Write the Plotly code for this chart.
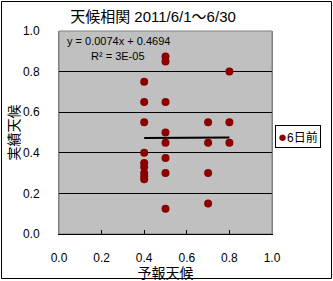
import plotly.graph_objects as go

# Data
forecast = [0.4, 0.4, 0.4, 0.4, 0.4, 0.4, 0.4, 0.4, 0.4,
            0.5, 0.5, 0.5, 0.5, 0.5, 0.5, 0.5, 0.5,
            0.7, 0.7, 0.7, 0.7,
            0.8, 0.8, 0.8]
actual = [0.75, 0.65, 0.55, 0.4, 0.35, 0.33, 0.3, 0.285, 0.27,
          0.875, 0.85, 0.65, 0.5, 0.45, 0.375, 0.3, 0.125,
          0.55, 0.45, 0.3, 0.15,
          0.8, 0.55, 0.45]
slope = 0.0074
intercept = 0.4694
eq_text = "y = 0.0074x + 0.4694"
r2_text = "R² = 3E-05"
series_name = "6日前"
title_text = "天候相関 2011/6/1～6/30"
x_title = "予報天候"
y_title = "実績天候"
tick_vals = [0.0, 0.2, 0.4, 0.6, 0.8, 1.0]

FONT = "Liberation Sans, Noto Sans CJK JP, sans-serif"
MARKER = "#8B0000"

x_min, x_max = min(forecast), max(forecast)
trend_x = [x_min, x_max]
trend_y = [slope * v + intercept for v in trend_x]

fig = go.Figure()
fig.add_trace(go.Scatter(x=trend_x, y=trend_y, mode="lines",
                         line=dict(color="black", width=2), showlegend=False,
                         hoverinfo="skip"))
fig.add_trace(go.Scatter(x=forecast, y=actual, mode="markers", name=series_name,
                         marker=dict(color=MARKER, size=8), showlegend=False))

L, R, T, B = 59, 61, 31, 47
W, H = 333, 281
pw, ph = W - L - R, H - T - B

def px_x(p):
    return (p - L) / pw

def px_y(p):
    return (H - B - p) / ph

fig.update_layout(
    width=W, height=H,
    margin=dict(l=L, r=R, t=T, b=B, autoexpand=False),
    paper_bgcolor="white",
    plot_bgcolor="#C0C0C0",
    font=dict(family=FONT, size=12, color="black"),
    title=dict(text=title_text, x=px_x(153), xanchor="center", xref="paper",
               y=1 - 17 / H, yanchor="middle", yref="container",
               font=dict(size=15, family=FONT)),
    xaxis=dict(range=[0, 1], tickvals=tick_vals, tickformat=".1f",
               showgrid=False, zeroline=False, automargin=False,
               showline=True, linecolor="black", linewidth=1,
               ticks="inside", ticklen=4, tickcolor="black",
               ticklabelstandoff=13,
               title=dict(text=x_title, font=dict(size=14), standoff=0),
               fixedrange=True),
    yaxis=dict(range=[0, 1], tickvals=tick_vals, tickformat=".1f",
               showgrid=True, gridcolor="black", gridwidth=1, zeroline=False,
               automargin=False,
               showline=True, linecolor="#808080", linewidth=1, mirror=True,
               ticks="", ticklabelstandoff=16,
               title=dict(text=y_title, font=dict(size=14), standoff=0),
               fixedrange=True),
    shapes=[
        dict(type="rect", xref="paper", yref="paper", x0=0, x1=1, y0=0, y1=1,
             line=dict(color="#808080", width=1), layer="below"),
        dict(type="rect", xref="paper", yref="paper",
             x0=px_x(1.5), x1=px_x(331.5), y0=px_y(1.5), y1=px_y(278.5),
             line=dict(color="black", width=1), layer="above"),
    ],
    annotations=[
        dict(text=eq_text, xref="paper", yref="paper", x=px_x(65), y=px_y(41),
             xanchor="left", yanchor="middle", showarrow=False,
             font=dict(size=11)),
        dict(text=r2_text, xref="paper", yref="paper", x=px_x(89), y=px_y(56),
             xanchor="left", yanchor="middle", showarrow=False,
             font=dict(size=11)),
        dict(text="<span style='color:%s;font-size:15px'>●</span>%s" % (MARKER, series_name),
             xref="paper", yref="paper", x=px_x(275), y=px_y(136),
             xanchor="left", yanchor="middle", showarrow=False,
             bgcolor="white", bordercolor="black", borderwidth=1, borderpad=2,
             font=dict(size=12)),
    ],
)

fig.write_html("out.html")
